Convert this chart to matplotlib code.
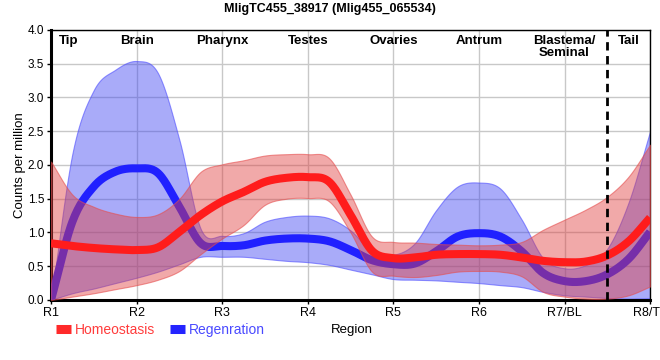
import numpy as np
import matplotlib
matplotlib.use('Agg')
from matplotlib import pyplot as plt
from matplotlib.lines import Line2D

plt.rcParams['font.family'] = ['Liberation Sans', 'DejaVu Sans']

# values, every quarter region from R1 to R8
pos = np.arange(1, 8.01, 0.25)

homeo_mean = [0.84, 0.80, 0.77, 0.75, 0.74, 0.78, 1.01, 1.26, 1.46, 1.60, 1.75, 1.81, 1.82, 1.75, 1.26,
              0.73, 0.62, 0.63, 0.67, 0.68, 0.68, 0.67, 0.63, 0.58, 0.56, 0.57, 0.66, 0.87, 1.22]
homeo_hi = [2.05, 1.56, 1.38, 1.28, 1.23, 1.27, 1.50, 1.90, 2.01, 2.07, 2.14, 2.16, 2.16, 2.10, 1.56,
            0.94, 0.86, 0.85, 0.83, 0.82, 0.81, 0.82, 0.86, 1.04, 1.19, 1.34, 1.53, 1.83, 2.30]
homeo_lo = [0.00, 0.05, 0.10, 0.16, 0.22, 0.30, 0.43, 0.68, 0.91, 1.11, 1.41, 1.50, 1.51, 1.46, 1.00,
            0.42, 0.36, 0.34, 0.37, 0.42, 0.43, 0.42, 0.35, 0.12, 0.05, 0.02, 0.02, 0.07, 0.20]

regen_mean = [0.00, 1.16, 1.68, 1.90, 1.95, 1.88, 1.38, 0.84, 0.80, 0.81, 0.88, 0.91, 0.91, 0.87, 0.74,
              0.59, 0.53, 0.54, 0.72, 0.94, 0.99, 0.94, 0.72, 0.40, 0.28, 0.28, 0.38, 0.61, 1.01]
regen_hi = [0.00, 2.17, 3.11, 3.41, 3.54, 3.36, 2.37, 1.05, 0.95, 0.99, 1.16, 1.23, 1.25, 1.21, 1.03,
            0.72, 0.67, 0.84, 1.33, 1.68, 1.74, 1.65, 1.19, 0.62, 0.47, 0.52, 0.76, 1.45, 2.50]
regen_lo = [0.00, 0.10, 0.17, 0.25, 0.33, 0.42, 0.53, 0.64, 0.64, 0.64, 0.61, 0.58, 0.56, 0.52, 0.45,
            0.38, 0.31, 0.30, 0.29, 0.27, 0.25, 0.22, 0.19, 0.12, 0.07, 0.05, 0.03, 0.02, 0.03]

tick_labels = ['R1', 'R2', 'R3', 'R4', 'R5', 'R6', 'R7/BL', 'R8/TL']
regions = ['Tip', 'Brain', 'Pharynx', 'Testes', 'Ovaries', 'Antrum', 'Blastema/\nSeminal', 'Tail']
region_pos = [1.2, 2, 3, 4, 5, 6, 7, 7.75]


def smooth(x, y, xs):
    # catmull-rom through the read points
    y = np.asarray(y, float)
    h = np.diff(x)
    m = np.zeros_like(y)
    m[1:-1] = (y[2:] - y[:-2]) / (x[2:] - x[:-2])
    m[0] = (y[1] - y[0]) / h[0]
    m[-1] = (y[-1] - y[-2]) / h[-1]
    i = np.clip(np.searchsorted(x, xs) - 1, 0, len(x) - 2)
    t = (xs - x[i]) / h[i]
    h00 = 2 * t**3 - 3 * t**2 + 1
    h10 = t**3 - 2 * t**2 + t
    h01 = -2 * t**3 + 3 * t**2
    h11 = t**3 - t**2
    return h00 * y[i] + h10 * h[i] * m[i] + h01 * y[i + 1] + h11 * h[i] * m[i + 1]


xs = np.linspace(1, 8, 700)

fig = plt.figure(figsize=(6.6, 3.6), dpi=100)
ax = fig.add_axes([0.0773, 0.1667, 0.9077, 0.75])

# blue first, red band sits over the blue line
ax.fill_between(xs, smooth(pos, regen_lo, xs), smooth(pos, regen_hi, xs),
                facecolor=(0.25, 0.27, 0.95, 0.45), edgecolor=(0.3, 0.3, 1, 0.6), lw=0.8, zorder=2)
ax.plot(xs, smooth(pos, regen_mean, xs), color='#2020ff', lw=5.8, solid_capstyle='butt', zorder=3)
ax.fill_between(xs, smooth(pos, homeo_lo, xs), smooth(pos, homeo_hi, xs),
                facecolor=(0.88, 0.25, 0.25, 0.45), edgecolor=(0.9, 0.3, 0.3, 0.6), lw=0.8, zorder=4)
ax.plot(xs, smooth(pos, homeo_mean, xs), color='#ff1c1c', lw=5.8, solid_capstyle='butt', zorder=5)

ax.axvline(7.5, color='black', lw=2, ls=(0, (3, 2)), zorder=6)

ax.set_xlim(1, 8)
ax.set_ylim(0, 4)
ax.set_xticks(range(1, 9))
ax.set_xticklabels(tick_labels, fontsize=9)
ax.set_yticks(np.arange(0, 4.01, 0.5))
ax.set_yticklabels(['%.1f' % v for v in np.arange(0, 4.01, 0.5)], fontsize=8.5)
ax.grid(True, color='#c8c8c8', lw=1)
ax.set_axisbelow(True)
ax.tick_params(length=3, width=1, pad=2)
for s in ['left', 'bottom']:
    ax.spines[s].set_linewidth(2.2)
for s in ['top', 'right']:
    ax.spines[s].set_linewidth(1)

for name, p in zip(regions, region_pos):
    ax.text(p, 3.93, name, ha='center', va='top', fontsize=9.5, fontweight='bold',
            linespacing=1.0, zorder=7)

ax.set_ylabel('Counts per million', fontsize=9.5)
ax.yaxis.set_label_coords(-0.042, 0.5)
fig.text(0.533, 0.083, 'Region', ha='center', va='center', fontsize=9.5)
fig.text(0.5, 0.975, 'MligTC455_38917 (Mlig455_065534)', ha='center', va='center',
         fontsize=9, fontweight='bold')

handles = [Line2D([], [], color='#ff2a2a', lw=6.5, solid_capstyle='butt'),
           Line2D([], [], color='#2424ff', lw=6.5, solid_capstyle='butt')]
leg = fig.legend(handles, ['Homeostasis', 'Regenration'], loc='center left',
                 bbox_to_anchor=(0.066, 0.083), ncol=2, frameon=False, fontsize=10,
                 handlelength=1.1, handletextpad=0.25, columnspacing=1.05)
for txt, c in zip(leg.get_texts(), ['#ff3c3c', '#4a4aff']):
    txt.set_color(c)

fig.savefig('out.png', dpi=100)
